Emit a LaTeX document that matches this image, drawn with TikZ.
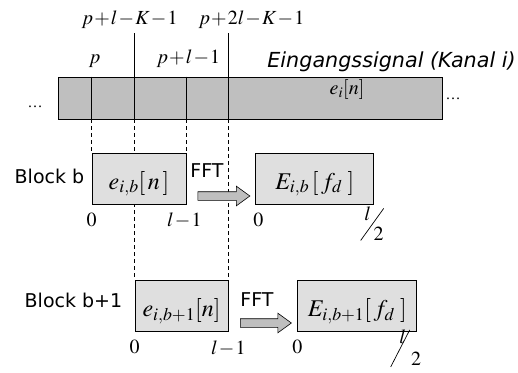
\documentclass[tikz,border=0pt]{standalone}
\usepackage{mathptmx}
\usepackage{fontspec}
\setmainfont{Liberation Serif}
\setsansfont{DejaVu Sans}
\usetikzlibrary{shapes,arrows,positioning,calc}
\pgfdeclarelayer{background}
\pgfsetlayers{background,main}
\newcommand{\tightmath}{\medmuskip=1mu\relax}

\begin{document}
\begin{tikzpicture}[x=1pt, y=-1pt, line width=0.8pt]
        % Style definitions
        \tikzset{
            sigbar/.style={draw, fill=gray!50, rectangle, minimum width=384pt, minimum height=42pt, inner sep=0pt},
            block/.style={draw, fill=gray!25, rectangle, minimum height=51pt, inner sep=0pt, text height=25pt, text depth=4pt, font=\fontsize{24}{28}\selectfont},
            fftarrow/.style={single arrow, draw, fill=gray!50, minimum height=52pt, single arrow head extend=5.5pt, single arrow tip angle=72, inner xsep=0pt, inner ysep=4pt, line width=0.6pt},
            mlabel/.style={inner sep=0pt, font=\fontsize{20}{23}\selectfont\tightmath},
            slabel/.style={inner sep=0pt, font=\sffamily\fontsize{19}{22}\selectfont},
            dots/.style={inner sep=0pt, font=\fontsize{15}{18}\selectfont},
            cut/.style={dash pattern=on 4pt off 3pt, line width=0.6pt},
            slash/.style={line width=0.7pt}
        }
        \useasboundingbox (0,0) rectangle (518,372);

        % Nodes
        \node [sigbar] (sig) at (250,98) {};
        \node [mlabel, anchor=base] (sigtxt) at (347,94) {$e_i[n]$};
        \node [block, minimum width=94pt] (blkb) at (139,178.5) {$e_{i,b}[\,n\,]$};
        \node [block, minimum width=118pt, right=69pt of blkb] (specb) {$E_{i,b}\,[\,f_d\;]$};
        \node [block, minimum width=93pt] (blkc) at (181.5,306) {$e_{i,b+1}[n]$};
        \node [block, minimum width=119pt, right=69pt of blkc] (specc) {$E_{i,b+1}[\,f_d\;]$};

        \node [dots, anchor=base] (ldots) at (35,107) {\ldots};
        \node [dots, anchor=base] (rdots) at (453,99) {\ldots};
        \node [slabel, anchor=base west, font=\sffamily\itshape\fontsize{20.7}{24}\selectfont] (ein) at (267,67) {Eingangssignal (Kanal i)};

        % Bar dividers
        \foreach \c in {blkb.west, blkb.east, blkc.west, blkc.east}
            \draw (sig.north -| \c) -- (sig.south -| \c);
        \draw (sig.north -| blkc.west) -- ++(0,-44) coordinate (topc);
        \draw (sig.north -| blkc.east) -- ++(0,-44) coordinate (topd);

        % Index labels
        \node [mlabel, anchor=base] (lp) at ($(sig.north -| blkb.west)+(3,-13)$) {$p$};
        \node [mlabel, anchor=base] (lpl) at ($(sig.north -| blkb.east)+(2,-13)$) {$p+l-1$};
        \node [mlabel, anchor=base] (lk) at ($(topc)+(-5,-8)$) {$p+l-K-1$};
        \node [mlabel, anchor=base] (lk2) at ($(topd)+(23,-8)$) {$p+2l-K-1$};

        \node [slabel, left=7pt of blkb, yshift=2.5pt] (nb) {Block b};
        \node [slabel, left=12pt of blkc, yshift=6pt] (nc) {Block b+1};

        \node [mlabel, below=8pt of blkb.south west] (b0) {$0$};
        \node [mlabel, below=8pt of blkb.south east, xshift=-2pt] (b1) {$l-1$};
        \node [mlabel, below=8pt of specb.south west, xshift=3pt] (s0) {$0$};
        \node [mlabel, below=8pt of blkc.south west] (c0) {$0$};
        \node [mlabel, below=8pt of blkc.south east] (c1) {$l-1$};
        \node [mlabel, below=8pt of specc.south west] (t0) {$0$};

        % Upper ends l/2
        \coordinate (sh) at ($(specb.south east)+(-2,20)$);
        \draw [slash] ($(sh)+(-11.5,16)$) -- ($(sh)+(11.5,-16)$);
        \node [mlabel, anchor=base] (shl) at ($(sh)+(-4.5,-4)$) {$l$};
        \node [mlabel, anchor=base] (sh2) at ($(sh)+(6.5,16)$) {$2$};
        \coordinate (th) at ($(specc.south east)+(-16,16.5)$);
        \draw [slash] ($(th)+(-10.5,18.5)$) -- ($(th)+(8.5,-18.5)$);
        \node [mlabel, anchor=base] (thl) at ($(th)+(1.5,-5)$) {$l$};
        \node [mlabel, anchor=base] (th2) at ($(th)+(15,17.5)$) {$2$};

        % Transform arrows
        \node [fftarrow] (fb) at ($(blkb.east)!0.5!(specb.west)+(0,17.5)$) {};
        \node [slabel] (fftb) at ($(blkb.east)!0.5!(specb.west)+(-14,-7.5)$) {FFT};
        \node [fftarrow, minimum height=51pt] (fc) at ($(blkc.east)!0.5!(specc.west)+(0,17)$) {};
        \node [slabel] (fftc) at ($(blkc.east)!0.5!(specc.west)+(-6,-6)$) {FFT};

        % Block boundaries
        \begin{pgfonlayer}{background}
            \draw [cut] (sig.south -| blkb.west) -- (blkb.north west);
            \draw [cut] (sig.south -| blkb.east) -- (blkb.north east);
            \draw [cut] (sig.south -| blkc.west) -- (blkc.north west);
            \draw [cut] (sig.south -| blkc.east) -- (blkc.north east);
        \end{pgfonlayer}
    \end{tikzpicture}
\end{document}
